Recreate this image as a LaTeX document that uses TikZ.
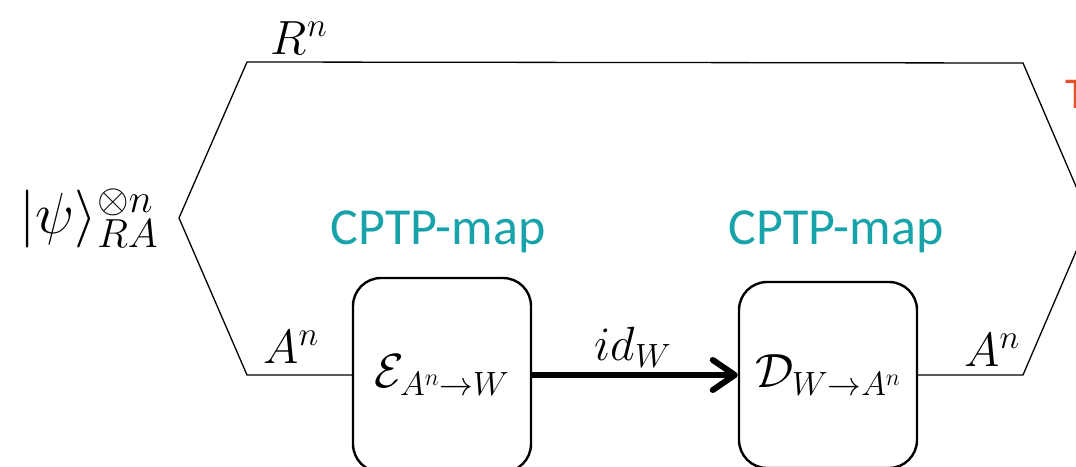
\RequirePackage{fix-cm}
\documentclass[tikz,border=0pt]{standalone}
\usepackage{fontspec}
\newfontfamily\calib{Carlito}
\usetikzlibrary{arrows.meta}
\definecolor{tealc}{HTML}{17A3A9}
\definecolor{orangec}{HTML}{E8502A}
\tikzset{
  wire/.style={line width=1.3pt, black},
  mapbox/.style={draw, line width=2.4pt, rounded corners=28pt, minimum width=178pt, inner sep=0pt},
  lbl/.style={font=\fontsize{48}{56}\selectfont, inner sep=0pt},
  cptp/.style={font=\calib\fontsize{52}{60}\selectfont, text=tealc, inner sep=0pt},
  bigarrow/.style={line width=6pt, -{Straight Barb[length=22pt,width=30pt,round]}}
}
\begin{document}
\begin{tikzpicture}[x=1pt,y=-1pt]
\useasboundingbox (0,0) rectangle (1076,466);
\begin{scope}
\clip (0,0) rectangle (1076,466);
% polygon corners
\coordinate (L) at (179,218);
\coordinate (TL) at (247,62);
\coordinate (TR) at (1023,63);
\coordinate (BL) at (247,375);
\coordinate (BR) at (1023,375);
\coordinate (Rv) at (1090,219);
% boxes
\node[mapbox, minimum height=194pt, lbl] (E) at (442,375) {$\mathcal{E}_{A^n\to W}$};
\node[mapbox, minimum height=186pt, lbl] (D) at (828,375) {$\mathcal{D}_{W\to A^n}$};
% wires
\draw[wire, line join=miter] (E.west) -- (BL) -- (L) -- (TL) -- (TR) -- (Rv);
\draw[wire] (D.east) -- (BR) -- (Rv);
\draw[bigarrow] (E.east) -- (D.west);
% labels
\node[lbl] (rn) at (299,38) {$R^n$};
\node[lbl] (an1) at (291,347) {$A^n$};
\node[lbl] (an2) at (992,350) {$A^n$};
\node[lbl] (idw) at (633,347) {$id_W$};
\node[lbl, font=\fontsize{58}{66}\selectfont] (psi) at (89,218) {$|\psi\rangle_{RA}^{\otimes n}$};
\node[cptp] (c1) at (438,232) {CPTP-map};
\node[cptp] (c2) at (836,232) {CPTP-map};
\node[font=\calib\fontsize{44}{50}\selectfont, text=orangec, inner sep=0pt, anchor=north west] (tt) at (1065,80) {T};
\end{scope}
\end{tikzpicture}
\end{document}
